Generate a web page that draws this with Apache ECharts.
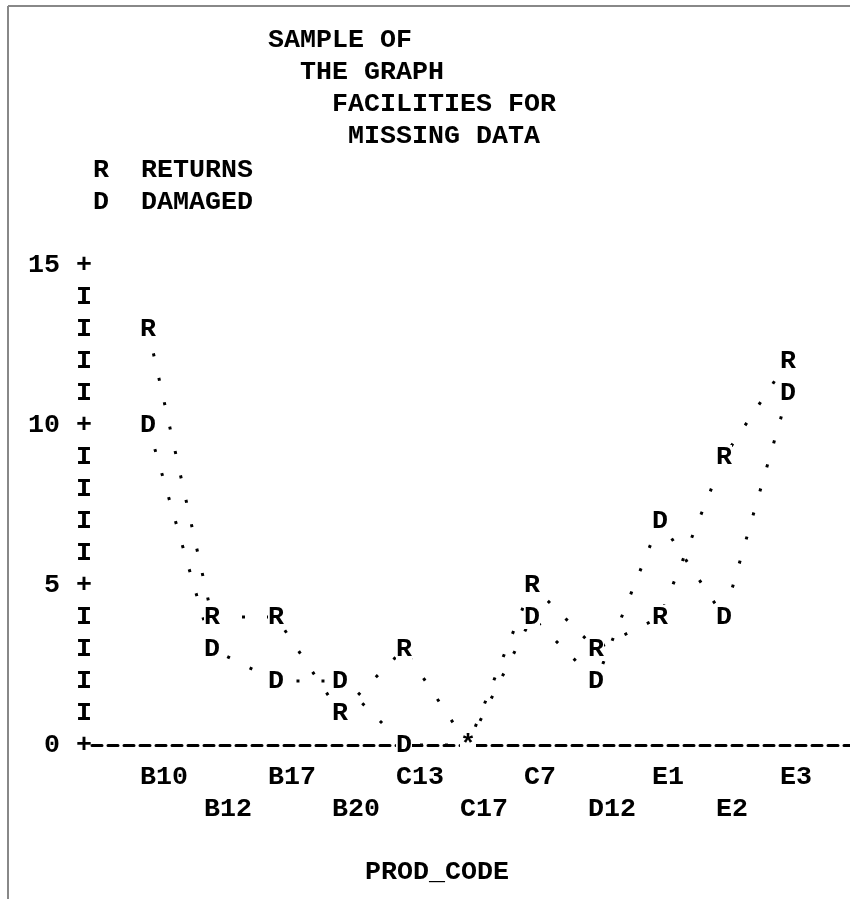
<!DOCTYPE html>
<html>
<head>
<meta charset="utf-8">
<script src="https://cdn.jsdelivr.net/npm/echarts@6/dist/echarts.min.js"></script>
<style>
  html,body{margin:0;padding:0;background:#fff;}
  #chart{width:850px;height:899px;}
</style>
</head>
<body>
<div id="chart"></div>
<script>
// values
var categories = ['B10','B12','B17','B20','C13','C17','C7','D12','E1','E2','E3'];
var returns = [13, 4, 4, 1, 3, 0, 5, 3, 4, 9, 12];
var damaged = [10, 3, 2, 2, 0, 0, 4, 2, 7, 4, 11];
var seriesNames = ['RETURNS', 'DAMAGED'];
var plotChars = ['R', 'D'];
var titleLines = ['SAMPLE OF', '  THE GRAPH', '    FACILITIES FOR', '     MISSING DATA'];

var mono = 'Liberation Mono';
var fs = 26.67;

var myChart = echarts.init(document.getElementById('chart'));

function markLabel(idx){
  return {
    show: true,
    position: 'inside',
    formatter: function(p){
      // both series on the same spot -> '*'
      if (returns[p.dataIndex] === damaged[p.dataIndex]) return '*';
      return plotChars[idx];
    },
    fontFamily: mono,
    fontWeight: 'bold',
    fontSize: fs,
    color: '#000',
    backgroundColor: '#fff',
    lineHeight: 24,
    padding: [0, 0]
  };
}

function hiddenAxis(extra){
  var a = {
    show: false,
    axisLine:{show:false}, axisTick:{show:false}, axisLabel:{show:false}, splitLine:{show:false}
  };
  for (var k in extra) a[k] = extra[k];
  return a;
}

myChart.setOption({
  animation: false,
  title: [
    {
      text: titleLines.join('\n'),
      left: 268, top: 24, padding: 0,
      textStyle: {fontFamily: mono, fontWeight: 'bold', fontSize: fs, lineHeight: 32, color: '#000'}
    },
    {
      text: 'PROD_CODE',
      left: 365, top: 856, padding: 0,
      textStyle: {fontFamily: mono, fontWeight: 'bold', fontSize: fs, lineHeight: 32, color: '#000'}
    }
  ],
  legend: {
    data: seriesNames,
    orient: 'vertical',
    left: 87, top: 154, padding: 0,
    itemGap: 0,
    itemWidth: 0, itemHeight: 0,
    itemStyle: {opacity: 0},
    lineStyle: {opacity: 0},
    formatter: function(name){ return plotChars[seriesNames.indexOf(name)] + '  ' + name; },
    textStyle: {fontFamily: mono, fontWeight: 'bold', fontSize: fs, lineHeight: 32, color: '#000'}
  },
  graphic: [
    {type: 'line', shape: {x1: 8, y1: 6, x2: 8, y2: 899}, style: {stroke: '#888', lineWidth: 2}},
    {type: 'line', shape: {x1: 8, y1: 6, x2: 850, y2: 6}, style: {stroke: '#888', lineWidth: 2}}
  ],
  grid: [
    {left: 148, right: 62, top: 265, bottom: 154},
    {left: 92, right: 0, top: 265, bottom: 154},
    {left: 140, right: 70, top: 265, bottom: 154}
  ],
  xAxis: [
    hiddenAxis({gridIndex: 0, type: 'category', boundaryGap: false, data: categories}),
    {
      gridIndex: 1, type: 'value', min: 0, max: 1,
      axisLine: {show: true, lineStyle: {color: '#000', width: 3, type: [10, 6]}},
      axisTick: {show: false}, axisLabel: {show: false}, splitLine: {show: false}
    },
    {
      gridIndex: 2, type: 'category', boundaryGap: false, data: categories,
      axisLine: {show: false}, axisTick: {show: false}, splitLine: {show: false},
      axisLabel: {
        show: true, interval: 0, align: 'left', verticalAlign: 'top', margin: 16,
        formatter: function(v, i){ return i % 2 ? '\n' + v : v; },
        fontFamily: mono, fontWeight: 'bold', fontSize: fs, lineHeight: 32, color: '#000'
      }
    }
  ],
  yAxis: [
    hiddenAxis({gridIndex: 0, type: 'value', min: 0, max: 15}),
    {
      gridIndex: 1, type: 'value', min: 0, max: 15, interval: 1,
      axisLine: {show: false}, axisTick: {show: false}, splitLine: {show: false},
      axisLabel: {
        show: true, margin: 0, align: 'right',
        formatter: function(v){ return v % 5 === 0 ? v + ' +' : 'I'; },
        fontFamily: mono, fontWeight: 'bold', fontSize: fs, color: '#000'
      }
    },
    hiddenAxis({gridIndex: 2, type: 'value', min: 0, max: 15})
  ],
  series: [
    {
      name: 'RETURNS', type: 'line', xAxisIndex: 0, yAxisIndex: 0,
      data: returns,
      symbol: 'circle', symbolSize: 1,
      itemStyle: {color: 'rgba(0,0,0,0)'},
      lineStyle: {color: '#000', width: 3, type: [3, 22], cap: 'butt'},
      label: markLabel(0),
      z: 3
    },
    {
      name: 'DAMAGED', type: 'line', xAxisIndex: 0, yAxisIndex: 0,
      data: damaged,
      symbol: 'circle', symbolSize: 1,
      itemStyle: {color: 'rgba(0,0,0,0)'},
      lineStyle: {color: '#000', width: 3, type: [3, 22], cap: 'butt'},
      label: markLabel(1),
      z: 3
    }
  ]
});
</script>
</body>
</html>
